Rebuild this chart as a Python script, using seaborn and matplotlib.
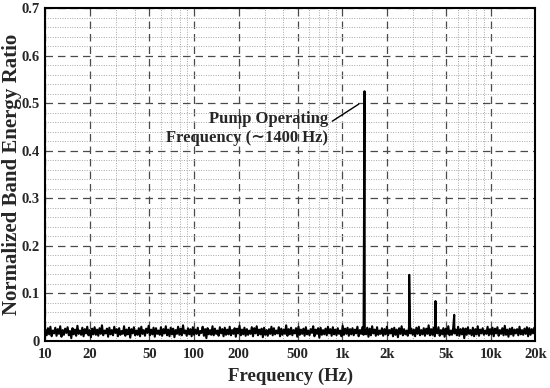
import numpy as np
import pandas as pd
import matplotlib
matplotlib.use("Agg")
import matplotlib.pyplot as plt
import seaborn as sns
from matplotlib.ticker import FixedLocator, MultipleLocator, NullFormatter


# DATA

# background band energy ratio, log-spaced bands from 10 Hz to 20 kHz
noise_floor = [
    0.024, 0.012, 0.027, 0.014, 0.030, 0.010, 0.022, 0.016, 0.028, 0.011,
    0.025, 0.015, 0.031, 0.009, 0.023, 0.013, 0.026, 0.017, 0.029, 0.012,
    0.021, 0.006, 0.027, 0.014, 0.024, 0.011, 0.032, 0.015, 0.022, 0.013,
    0.028, 0.010, 0.025, 0.016, 0.030, 0.012, 0.023, 0.008, 0.026, 0.014,
    0.029, 0.013, 0.024, 0.011, 0.027, 0.015, 0.033, 0.012, 0.022, 0.016,
    0.026, 0.009, 0.028, 0.014, 0.023, 0.012, 0.030, 0.017, 0.025, 0.010,
    0.027, 0.013, 0.021, 0.015, 0.031, 0.011, 0.024, 0.014, 0.028, 0.007,
    0.025, 0.016, 0.029, 0.012, 0.022, 0.013, 0.027, 0.010, 0.030, 0.015,
    0.023, 0.011, 0.026, 0.017, 0.032, 0.012, 0.024, 0.014, 0.028, 0.009,
    0.027, 0.015, 0.022, 0.013, 0.029, 0.011, 0.025, 0.016, 0.031, 0.012,
    0.024, 0.010, 0.028, 0.014, 0.026, 0.008, 0.023, 0.015, 0.030, 0.013,
    0.026, 0.012, 0.033, 0.016, 0.022, 0.011, 0.027, 0.014, 0.025, 0.010,
    0.029, 0.013, 0.024, 0.015, 0.028, 0.012, 0.021, 0.017, 0.030, 0.011,
    0.025, 0.006, 0.027, 0.014, 0.023, 0.013, 0.031, 0.012, 0.026, 0.015,
    0.022, 0.011, 0.029, 0.016, 0.025, 0.010, 0.028, 0.013, 0.024, 0.014,
    0.030, 0.012, 0.023, 0.015, 0.027, 0.009, 0.026, 0.016, 0.032, 0.012,
    0.024, 0.014, 0.028, 0.011, 0.025, 0.013, 0.022, 0.015, 0.029, 0.010,
    0.027, 0.016, 0.031, 0.012, 0.024, 0.014, 0.026, 0.008, 0.028, 0.013,
    0.023, 0.011, 0.025, 0.015, 0.030, 0.012, 0.027, 0.014, 0.022, 0.016,
    0.029, 0.010, 0.026, 0.013, 0.024, 0.015, 0.033, 0.011, 0.025, 0.014,
    0.028, 0.012, 0.023, 0.016, 0.027, 0.009, 0.030, 0.013, 0.024, 0.015,
    0.026, 0.011, 0.029, 0.014, 0.022, 0.012, 0.025, 0.017, 0.031, 0.010,
    0.024, 0.015, 0.027, 0.007, 0.028, 0.013, 0.023, 0.014, 0.026, 0.012,
    0.030, 0.016, 0.025, 0.011, 0.029, 0.014, 0.024, 0.012, 0.027, 0.015,
    0.022, 0.010, 0.032, 0.013, 0.026, 0.015, 0.028, 0.011, 0.025, 0.014,
    0.027, 0.012, 0.024, 0.016, 0.030, 0.010, 0.023, 0.015, 0.029, 0.013,
    0.025, 0.014, 0.028, 0.009, 0.026, 0.012, 0.031, 0.016, 0.024, 0.011,
    0.029, 0.013, 0.022, 0.015, 0.027, 0.011, 0.025, 0.014, 0.030, 0.012,
    0.023, 0.016, 0.026, 0.010, 0.028, 0.013, 0.024, 0.008, 0.027, 0.015,
    0.031, 0.012, 0.025, 0.014, 0.022, 0.011, 0.029, 0.016, 0.026, 0.013,
    0.024, 0.010, 0.028, 0.015, 0.030, 0.012, 0.023, 0.014, 0.027, 0.011,
    0.026, 0.015, 0.033, 0.012, 0.025, 0.013, 0.028, 0.010, 0.024, 0.016,
    0.029, 0.011, 0.023, 0.014, 0.027, 0.009, 0.026, 0.015, 0.031, 0.012,
    0.022, 0.013, 0.028, 0.016, 0.024, 0.012, 0.030, 0.011, 0.025, 0.014,
    0.027, 0.006, 0.026, 0.013, 0.029, 0.015, 0.023, 0.012, 0.028, 0.010,
    0.025, 0.014, 0.031, 0.011, 0.024, 0.016, 0.027, 0.013, 0.022, 0.015,
    0.030, 0.012, 0.025, 0.014, 0.028, 0.010, 0.026, 0.016, 0.029, 0.011,
    0.023, 0.015, 0.027, 0.012, 0.032, 0.013, 0.024, 0.009, 0.026, 0.014,
    0.028, 0.011, 0.024, 0.016, 0.025, 0.012, 0.030, 0.014, 0.023, 0.013,
    0.026, 0.015, 0.029, 0.010, 0.027, 0.013, 0.025, 0.016, 0.028, 0.012,
]
freq_min, freq_max = 10, 20000

# pump tone and its harmonics
peak_freqs = [1410, 2820, 4240, 5670]
peak_values = [0.525, 0.139, 0.084, 0.055]

x_ticks = [10, 20, 50, 100, 200, 500, 1000, 2000, 5000, 10000, 20000]
x_tick_labels = ["10", "20", "50", "100", "200", "500", "1k", "2k", "5k", "10k", "20k"]
x_minor = [m * 10 ** k for k in (1, 2, 3) for m in (3, 4, 6, 7, 8, 9)]
y_ticks = [0, 0.1, 0.2, 0.3, 0.4, 0.5, 0.6, 0.7]
y_tick_labels = ["0", "0.1", "0.2", "0.3", "0.4", "0.5", "0.6", "0.7"]

annot_text = "Pump Operating\nFrequency (\u223c1400 Hz)"


# BUILD SERIES

band_freq = np.geomspace(freq_min, freq_max, len(noise_floor))
df = pd.DataFrame({
    "freq": np.concatenate([band_freq, peak_freqs]),
    "ratio": np.concatenate([noise_floor, peak_values]),
}).sort_values("freq")


# PLOT

sns.set_style("white")
plt.rcParams["font.family"] = ["Liberation Serif", "DejaVu Serif"]
plt.rcParams["font.weight"] = "bold"

fig = plt.figure(figsize=(5.5, 3.88), dpi=100)
ax = fig.add_axes([0.0827, 0.1211, 0.8909, 0.8583])

sns.lineplot(data=df, x="freq", y="ratio", color="black", lw=1.5, ax=ax,
             estimator=None, sort=True)

ax.set_xscale("log")
ax.set_xlim(freq_min, freq_max)
ax.set_ylim(0, 0.7)

ax.xaxis.set_major_locator(FixedLocator(x_ticks))
ax.set_xticklabels(x_tick_labels)
ax.xaxis.set_minor_locator(FixedLocator(x_minor))
ax.xaxis.set_minor_formatter(NullFormatter())
ax.set_yticks(y_ticks)
ax.set_yticklabels(y_tick_labels)
ax.yaxis.set_minor_locator(MultipleLocator(0.02))

ax.grid(which="major", ls=(0, (6, 4)), color="#4a4a4a", lw=0.9)
ax.grid(which="minor", ls=(0, (1, 1.5)), color="#a8a8a8", lw=0.7)
ax.set_axisbelow(True)

ax.tick_params(which="both", length=0)
ax.tick_params(axis="x", pad=5, labelsize=10.5)
ax.tick_params(axis="y", pad=4, labelsize=10.5)
for lab in ax.get_xticklabels() + ax.get_yticklabels():
    lab.set_fontweight("bold")

for sp in ax.spines.values():
    sp.set_color("black")
    sp.set_linewidth(1.5)

ax.set_xlabel("Frequency (Hz)", fontsize=13.5, fontweight="bold", labelpad=5)
ax.set_ylabel("Normalized Band Energy Ratio", fontsize=15, fontweight="bold", labelpad=0)

# annotation for the pump peak
ax.text(800, 0.447, annot_text, ha="right", va="center", multialignment="right",
        fontsize=12, fontweight="bold")
ax.annotate("", xy=(1290, 0.498), xytext=(855, 0.462),
            arrowprops=dict(arrowstyle="-", color="black", lw=1, shrinkA=0, shrinkB=0))

fig.savefig("out.png", dpi=100)
